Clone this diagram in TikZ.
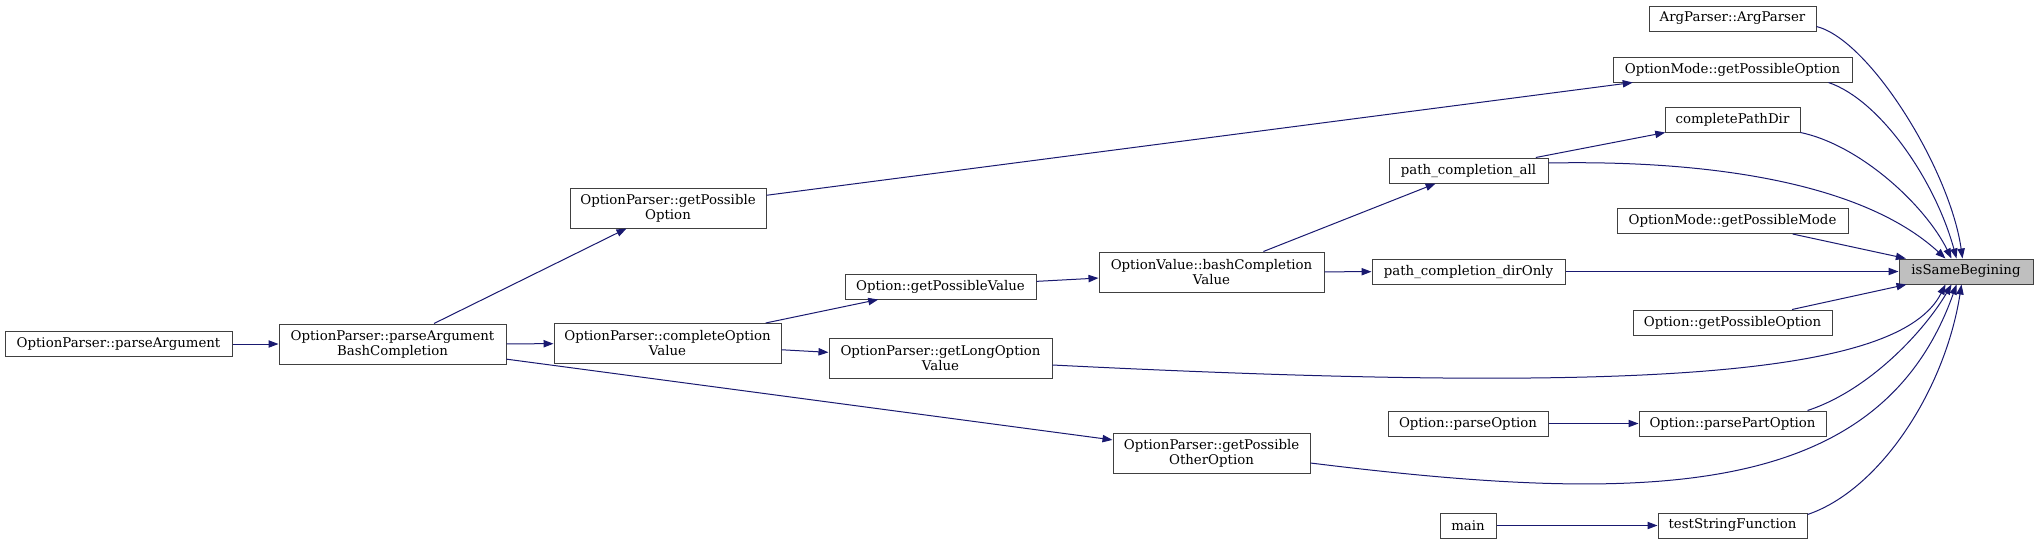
\documentclass[tikz,border=0pt]{standalone}
\usepackage{fontspec}
\setmainfont{DejaVu Serif}
\usetikzlibrary{arrows.meta,calc}
\definecolor{edgeblue}{HTML}{191970}
\definecolor{boxgray}{HTML}{404040}
\definecolor{fillgray}{HTML}{BFBFBF}
\begin{document}
\begin{tikzpicture}[x=0.75pt,y=-0.75pt,
  fn/.style={draw=boxgray, line width=0.75pt, fill=white, inner sep=0pt,
    minimum height=18.75pt, font=\fontsize{10}{11.25}\selectfont, align=center},
  fntwo/.style={fn, minimum height=30pt},
  target/.style={fn, fill=fillgray},
  call/.style={draw=edgeblue, line width=0.75pt,
    -{Triangle[length=7.5pt,width=5.5pt]}}]
\fill[white] (0,0) rectangle (2039,544);
\useasboundingbox (0,0) rectangle (2039,544);

% nodes
\node[target, minimum width=100.5pt] (tgt) at (1966,271.5) {isSameBegining};
\node[fn, minimum width=125.25pt] (argp) at (1732.5,18.5) {ArgParser::ArgParser};
\node[fn, minimum width=179.25pt] (omgpo) at (1732.5,69.5) {OptionMode::getPossibleOption};
\node[fn, minimum width=101.25pt] (cpd) at (1732.5,119.5) {completePathDir};
\node[fn, minimum width=173.25pt] (omgpm) at (1732.5,221) {OptionMode::getPossibleMode};
\node[fn, minimum width=149.25pt] (ogpo) at (1732.5,322.5) {Option::getPossibleOption};
\node[fn, minimum width=140.25pt] (oppo) at (1732.5,423.5) {Option::parsePartOption};
\node[fn, minimum width=111.75pt] (tsf) at (1732.5,525.5) {testStringFunction};
\node[fn, minimum width=119.25pt] (pca) at (1468.5,170.5) {path\_completion\_all};
\node[fn, minimum width=144.75pt] (pcd) at (1468.5,271.5) {path\_completion\_dirOnly};
\node[fn, minimum width=120pt] (po) at (1468,423.5) {Option::parseOption};
\node[fn, minimum width=42pt] (main) at (1468,525.5) {main};
\node[fntwo, minimum width=168.75pt] (ovbcv) at (1211.5,272) {OptionValue::bashCompletion\\Value};
\node[fntwo, minimum width=147.75pt] (opgpoo) at (1211.5,453) {OptionParser::getPossible\\OtherOption};
\node[fn, minimum width=143.25pt] (ogpv) at (940.5,286.5) {Option::getPossibleValue};
\node[fntwo, minimum width=167.25pt] (oplov) at (940.5,358.5) {OptionParser::getLongOption\\Value};
\node[fntwo, minimum width=147pt] (opgpo) at (668,208) {OptionParser::getPossible\\Option};
\node[fntwo, minimum width=170.25pt] (opcov) at (667.5,343.5) {OptionParser::completeOption\\Value};
\node[fntwo, minimum width=170.25pt] (opabc) at (392.5,344) {OptionParser::parseArgument\\BashCompletion};
\node[fn, minimum width=170.25pt] (opa) at (118.5,344) {OptionParser::parseArgument};

% straight edges
\draw[call] (opa) -- (opabc);
\draw[call] (opabc) -- (opgpo);
\draw[call] (opabc) -- (opcov);
\draw[call] (opabc) -- (opgpoo);
\draw[call] (opcov) -- (ogpv);
\draw[call] (opcov) -- (oplov);
\draw[call] (ogpv) -- (ovbcv);
\draw[call] (ovbcv) -- (pca);
\draw[call] (ovbcv) -- (pcd);
\draw[call] (pca) -- (cpd);
\draw[call] (opgpo) -- (omgpo);
\draw[call] (po) -- (oppo);
\draw[call] (main) -- (tsf);
\draw[call] (omgpm) -- (tgt);
\draw[call] (pcd) -- (tgt);
\draw[call] (ogpo) -- (tgt);

% curved edges into the target
\draw[call] ($(argp.south east)+(0,-5)$) .. controls (1870,40) and (1950,170) .. ($(tgt.north west)+(64,0)$);
\draw[call] ($(omgpo.south east)+(-24,0)$) .. controls (1880,100) and (1935,180) .. ($(tgt.north west)+(58,0)$);
\draw[call] (cpd.south east) .. controls (1860,145) and (1925,205) .. ($(tgt.north west)+(53,0)$);
\draw[call] ($(pca.east)+(0,-7.5)$) .. controls (1700,160) and (1860,180) .. ($(tgt.north west)+(47,0)$);
\draw[call] ($(oplov.east)+(0,6.5)$) .. controls (1650,395) and (1900,375) .. ($(tgt.south west)+(47,0)$);
\draw[call] ($(oppo.north east)+(-19,0)$) .. controls (1870,390) and (1925,330) .. ($(tgt.south west)+(53,0)$);
\draw[call] ($(opgpoo.east)+(0,10)$) .. controls (1650,505) and (1880,500) .. ($(tgt.south west)+(58,0)$);
\draw[call] ($(tsf.north east)+(0,2)$) .. controls (1880,490) and (1945,390) .. ($(tgt.south west)+(63,0)$);
\end{tikzpicture}
\end{document}
